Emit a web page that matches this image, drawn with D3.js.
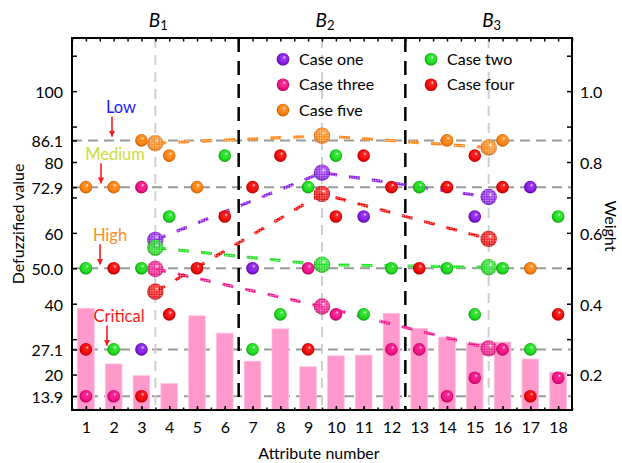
<!DOCTYPE html>
<html><head><meta charset="utf-8">
<script src="https://cdn.jsdelivr.net/npm/d3@7"></script>
<style>body{margin:0;background:#fff} svg{display:block;font-family:Lato,"Open Sans",sans-serif}</style>
</head><body><svg id="c" width="622" height="463"></svg>
<script>
// ---------- data ----------
const attributes = [1,2,3,4,5,6,7,8,9,10,11,12,13,14,15,16,17,18];
const weights = [0.387,0.230,0.197,0.175,0.366,0.317,0.238,0.329,0.222,0.253,0.255,0.373,0.330,0.306,0.289,0.292,0.244,0.207];
const caseOne   = [null,null,27.1,null,null,null,50.0,null,null,null,64.6,null,null,null,64.6,null,72.9,null];
const caseTwo   = [50.0,27.1,50.0,64.6,null,81.8,27.1,37.0,72.9,81.8,37.0,50.0,72.9,50.0,37.0,50.0,27.1,64.6];
const caseThree = [13.9,13.9,72.9,null,null,null,null,null,50.0,37.0,null,27.1,27.1,13.9,19.1,27.1,null,19.1];
const caseFour  = [27.1,50.0,13.9,37.0,50.0,64.6,72.9,81.8,27.1,64.6,81.8,72.9,50.0,72.9,81.8,72.9,13.9,37.0];
const caseFive  = [72.9,72.9,86.1,81.8,72.9,null,null,null,null,null,null,null,null,86.1,null,86.1,50.0,null];
const groupPos = [3.5,9.5,15.5];
const groupSubs = ["1","2","3"];
const groupSplits = [6.5,12.5];
const avgOne   = [58.0,77.0,70.1];
const avgTwo   = [55.8,51.0,50.3];
const avgThree = [49.8,39.2,27.4];
const avgFour  = [43.4,71.0,58.3];
const avgFive  = [85.3,87.4,84.1];
const levels = [86.1,72.9,50.0,27.1,13.9];
const levelNames = ["Low","Medium","High","Critical"];
const leftTicks = [13.9,20,27.1,40,50,60,72.9,80,86.1,100];
const leftMinor = [30,70,90,110];
const rightTicks = [0.2,0.4,0.6,0.8,1.0];
const rightMinor = [0.3,0.5,0.7,0.9,1.1];
const caseNames = ["Case one","Case two","Case three","Case four","Case five"];

// ---------- styling ----------
const caseColors = ["#8a1ee8","#1fe01f","#f5148a","#f50a0a","#ff8410"];
const caseDark   = ["#4c0090","#0a8a0a","#a0004e","#a00000","#b85200"];
const levelColors = ["#1a1aff","#cddc39","#ff8c1a","#ff1a1a"];
const levelArrowX = [112,101,100,107];
const levelTextX  = [121,115,110,119];
const cases = caseNames.map((n,i)=>({name:n, values:[caseOne,caseTwo,caseThree,caseFour,caseFive][i],
  avg:[avgOne,avgTwo,avgThree,avgFour,avgFive][i], color:caseColors[i], dark:caseDark[i], id:i}));

const L=72,R=572,T=38,B=410;
const svg = d3.select("#c");
const x = d3.scaleLinear().domain([0.5,18.5]).range([L,R]);
const y = d3.scaleLinear().domain([10,115]).range([B,T]);
const yR = d3.scaleLinear().domain([0.1,1.15]).range([B,T]);

const defs = svg.append("defs");
cases.forEach(c=>{
  const g = defs.append("radialGradient").attr("id","g"+c.id)
    .attr("cx","50%").attr("cy","50%").attr("r","55%").attr("fx","62%").attr("fy","32%");
  g.append("stop").attr("offset","0").attr("stop-color","#fff");
  g.append("stop").attr("offset","0.22").attr("stop-color",c.color).attr("stop-opacity",0.85);
  g.append("stop").attr("offset","0.65").attr("stop-color",c.color);
  g.append("stop").attr("offset","1").attr("stop-color",c.dark);
  const p = defs.append("pattern").attr("id","p"+c.id).attr("patternUnits","userSpaceOnUse")
    .attr("width",2.5).attr("height",2.5);
  p.append("rect").attr("width",2.5).attr("height",2.5).attr("fill",c.color);
  p.append("rect").attr("width",1.2).attr("height",1.2).attr("fill","#fff").attr("opacity",0.75);
});
const chk = defs.append("pattern").attr("id","chk").attr("patternUnits","userSpaceOnUse").attr("width",2.5).attr("height",2.5);
chk.append("rect").attr("width",1.2).attr("height",1.2).attr("fill","#fff").attr("opacity",0.55);
defs.append("marker").attr("id","arr").attr("viewBox","0 0 10 10").attr("refX",9).attr("refY",5)
  .attr("markerWidth",4).attr("markerHeight",4).attr("orient","auto")
  .append("path").attr("d","M0,0L10,5L0,10z").attr("fill","#ff1a1a");

// grid lines
svg.append("g").selectAll("line").data(levels).join("line")
  .attr("x1",L).attr("x2",R).attr("y1",d=>y(d)).attr("y2",d=>y(d))
  .attr("stroke","#9a9a9a").attr("stroke-width",2).attr("stroke-dasharray","10,6");
svg.append("g").selectAll("line").data(groupPos).join("line")
  .attr("x1",d=>x(d)).attr("x2",d=>x(d)).attr("y1",T).attr("y2",B)
  .attr("stroke","#cfcfcf").attr("stroke-width",2).attr("stroke-dasharray","10,7");

// bars
const bw = (x(2)-x(1))*0.6;
svg.append("g").selectAll("rect").data(weights).join("rect")
  .attr("x",(d,i)=>x(attributes[i])-bw/2).attr("width",bw)
  .attr("y",d=>yR(d)).attr("height",d=>B-yR(d))
  .attr("fill","#ff99cc").attr("stroke","#ffc2e0").attr("stroke-width",0.8);

// group split lines
svg.append("g").selectAll("line").data(groupSplits).join("line")
  .attr("x1",d=>x(d)).attr("x2",d=>x(d)).attr("y1",T).attr("y2",B)
  .attr("stroke","#000").attr("stroke-width",2.5).attr("stroke-dasharray","14,9");

// trend lines
const line = d3.line().x((d,i)=>x(groupPos[i])).y(d=>y(d));
cases.forEach(c=>{
  svg.append("path").attr("d",line(c.avg)).attr("fill","none")
    .attr("stroke","url(#p"+c.id+")").attr("stroke-width",3.2).attr("stroke-dasharray","11,12");
});
// average spheres
cases.forEach(c=>{
  const g = svg.append("g");
  c.avg.forEach((v,i)=>{
    g.append("circle").attr("cx",x(groupPos[i])).attr("cy",y(v)).attr("r",8.2).attr("fill","url(#g"+c.id+")").attr("opacity",0.9);
    g.append("circle").attr("cx",x(groupPos[i])).attr("cy",y(v)).attr("r",8.2).attr("fill","url(#chk)");
  });
});
// points
cases.forEach(c=>{
  svg.append("g").selectAll("circle").data(c.values.map((v,i)=>({v,a:attributes[i]})).filter(d=>d.v!==null))
    .join("circle").attr("cx",d=>x(d.a)).attr("cy",d=>y(d.v)).attr("r",6.3)
    .attr("fill","url(#g"+c.id+")");
});

// level annotations
levelNames.forEach((n,i)=>{
  const yl = y(levels[i]);
  svg.append("text").attr("x",levelTextX[i]).attr("y",yl-33).attr("dy","0.36em")
    .attr("text-anchor","middle").attr("font-size",16.5).attr("fill",levelColors[i]).text(n);
  svg.append("line").attr("x1",levelArrowX[i]).attr("x2",levelArrowX[i]).attr("y1",yl-24).attr("y2",yl-4)
    .attr("stroke","#ff1a1a").attr("stroke-width",1.6).attr("marker-end","url(#arr)");
});

// axes
function styleAxis(g){ g.select(".domain").remove(); g.selectAll("line").attr("stroke","#000").attr("stroke-width",1.5);
  g.selectAll("text").attr("font-size",16).attr("fill","#000").attr("font-family","Lato,'Open Sans',sans-serif"); }
const fmtL = d=> d===50 ? "50.0" : String(d);
svg.append("g").attr("transform",`translate(${L},0)`)
  .call(d3.axisLeft(y).tickValues(leftTicks).tickFormat(fmtL).tickSize(-5).tickPadding(9)).call(styleAxis)
  .selectAll("text").attr("dy","0.4em");
svg.append("g").attr("transform",`translate(${L},0)`)
  .call(d3.axisLeft(y).tickValues(leftMinor).tickFormat("").tickSize(-5)).call(styleAxis);
svg.append("g").attr("transform",`translate(${R},0)`)
  .call(d3.axisRight(yR).tickValues(rightTicks).tickFormat(d3.format(".1f")).tickSize(-5).tickPadding(8)).call(styleAxis)
  .selectAll("text").attr("dy","0.4em");
svg.append("g").attr("transform",`translate(${R},0)`)
  .call(d3.axisRight(yR).tickValues(rightMinor).tickFormat("").tickSize(-5)).call(styleAxis);
const halves = d3.range(0.5,18.51,0.5);
svg.append("g").attr("transform",`translate(0,${B})`)
  .call(d3.axisBottom(x).tickValues(attributes).tickFormat(d3.format("d")).tickSize(-4).tickPadding(12)).call(styleAxis);
svg.append("g").attr("transform",`translate(0,${B})`)
  .call(d3.axisBottom(x).tickValues(halves).tickFormat("").tickSize(-2.5)).call(styleAxis);
svg.append("g").attr("transform",`translate(0,${T})`)
  .call(d3.axisTop(x).tickValues(halves).tickFormat("").tickSize(-3.5)).call(styleAxis);

// frame
svg.append("rect").attr("x",L).attr("y",T).attr("width",R-L).attr("height",B-T)
  .attr("fill","none").attr("stroke","#000").attr("stroke-width",2);

// group labels
groupPos.forEach((p,i)=>{
  const t = svg.append("text").attr("x",x(p)+3).attr("y",27).attr("text-anchor","middle").attr("font-size",19);
  t.append("tspan").attr("font-style","italic").text("B");
  t.append("tspan").attr("font-size",13).attr("dy",3).text(groupSubs[i]);
});

// axis titles
svg.append("text").attr("transform","translate(18,224) rotate(-90)").attr("text-anchor","middle")
  .attr("dy","0.35em").attr("font-size",16).text("Defuzzified value");
svg.append("text").attr("transform","translate(611,226) rotate(90)").attr("text-anchor","middle")
  .attr("dy","0.35em").attr("font-size",16).text("Weight");
svg.append("text").attr("x",319).attr("y",453).attr("text-anchor","middle").attr("dy","0.35em")
  .attr("font-size",16).text("Attribute number");

// legend
const legendOrder = [0,2,4,1,3];
legendOrder.forEach((ci,k)=>{
  const col = k<3?0:1, row = k<3?k:k-3;
  const lx = col===0?283:431, ly = 59.3+row*25.4;
  svg.append("circle").attr("cx",lx).attr("cy",ly).attr("r",6.3).attr("fill","url(#g"+ci+")");
  svg.append("text").attr("x",lx+16).attr("y",ly).attr("dy","0.36em").attr("font-size",16).text(cases[ci].name);
});
</script></body></html>
